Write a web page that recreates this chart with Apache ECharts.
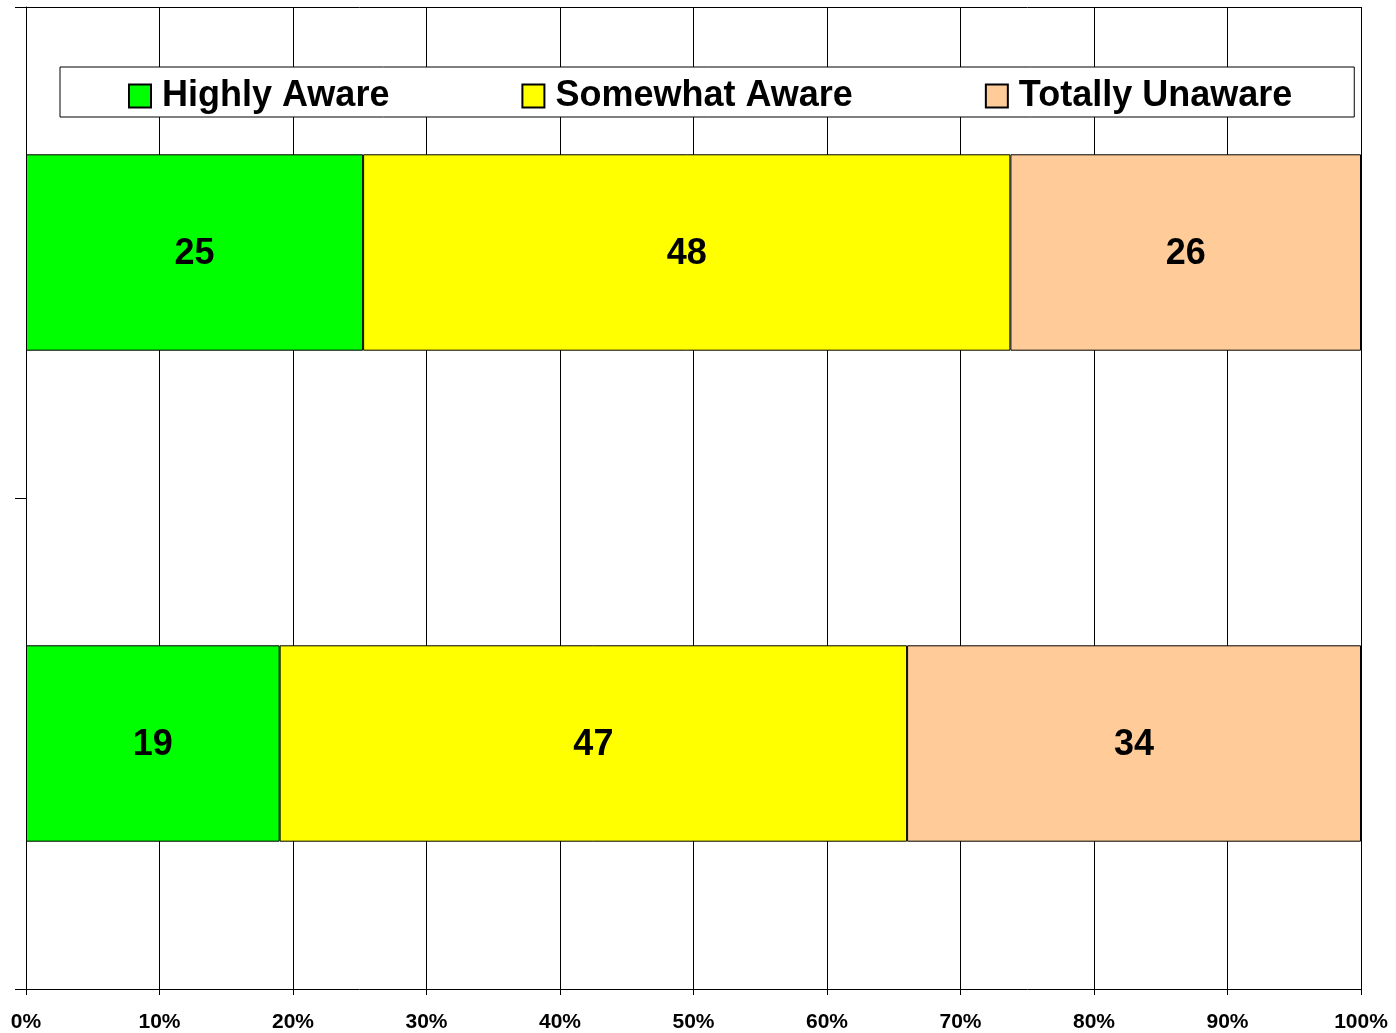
<!DOCTYPE html>
<html>
<head>
<meta charset="utf-8">
<script src="https://cdn.jsdelivr.net/npm/echarts@6/dist/echarts.min.js"></script>
<style>
  html, body { margin: 0; padding: 0; background: #fff; }
  #chart { width: 1396px; height: 1033px; }
</style>
</head>
<body>
<div id="chart"></div>
<script>
const categories = ["Group 1", "Group 2"];
const seriesNames = ["Highly Aware", "Somewhat Aware", "Totally Unaware"];
const highlyAware = [25, 19];
const somewhatAware = [48, 47];
const totallyUnaware = [26, 34];
const colors = ["#00FF00", "#FFFF00", "#FFCC99"];

const font = "Arial, 'Liberation Sans', sans-serif";
const allRows = [highlyAware, somewhatAware, totallyUnaware];
const totals = categories.map((_, i) => allRows.reduce((s, r) => s + r[i], 0));

// 100% stacked: bar length is the share, label shows the raw value
function toShare(values) {
  return values.map((v, i) => ({ value: (v / totals[i]) * 100, raw: v }));
}

const series = allRows.map((vals, k) => ({
  name: seriesNames[k],
  type: "bar",
  stack: "total",
  barWidth: "40%",
  data: toShare(vals),
  itemStyle: { color: colors[k], borderColor: "#000", borderWidth: 1 },
  label: {
    show: true,
    position: "inside",
    formatter: (p) => p.data.raw,
    color: "#000",
    fontFamily: font,
    fontWeight: "bold",
    fontSize: 36,
    offset: [0, 2],
  },
  emphasis: { disabled: true },
}));

const chart = echarts.init(document.getElementById("chart"));
chart.setOption({
  animation: false,
  backgroundColor: "#fff",
  grid: { left: 26, right: 35, top: 7, bottom: 43 },
  legend: {
    left: 60,
    top: 67,
    padding: [11, 62, 3, 68],
    itemGap: 132,
    itemWidth: 22,
    itemHeight: 23,
    icon: "rect",
    borderColor: "#000",
    borderWidth: 1,
    backgroundColor: "#fff",
    textStyle: { fontFamily: font, fontWeight: "bold", fontSize: 36, color: "#000", padding: [0, 0, 0, 6] },
    data: seriesNames,
  },
  xAxis: [
    {
      type: "value",
      min: 0,
      max: 100,
      interval: 10,
      axisLine: { show: true, lineStyle: { color: "#000", width: 1 } },
      axisTick: { show: true, length: 6, lineStyle: { color: "#000" } },
      splitLine: { show: true, lineStyle: { color: "#000", width: 1 } },
      axisLabel: {
        formatter: "{value}%",
        color: "#000",
        fontFamily: font,
        fontWeight: "bold",
        fontSize: 21,
        margin: 23,
      },
    },
    {
      type: "value",
      position: "top",
      min: 0,
      max: 100,
      axisLine: { show: true, lineStyle: { color: "#000", width: 1 } },
      axisTick: { show: false },
      axisLabel: { show: false },
      splitLine: { show: false },
    },
  ],
  yAxis: {
    type: "category",
    inverse: true,
    data: categories,
    axisLine: { show: true, lineStyle: { color: "#000", width: 1 } },
    axisTick: { show: true, length: 11, lineStyle: { color: "#000" } },
    axisLabel: { show: false },
    splitLine: { show: false },
  },
  series: series,
});
</script>
</body>
</html>
